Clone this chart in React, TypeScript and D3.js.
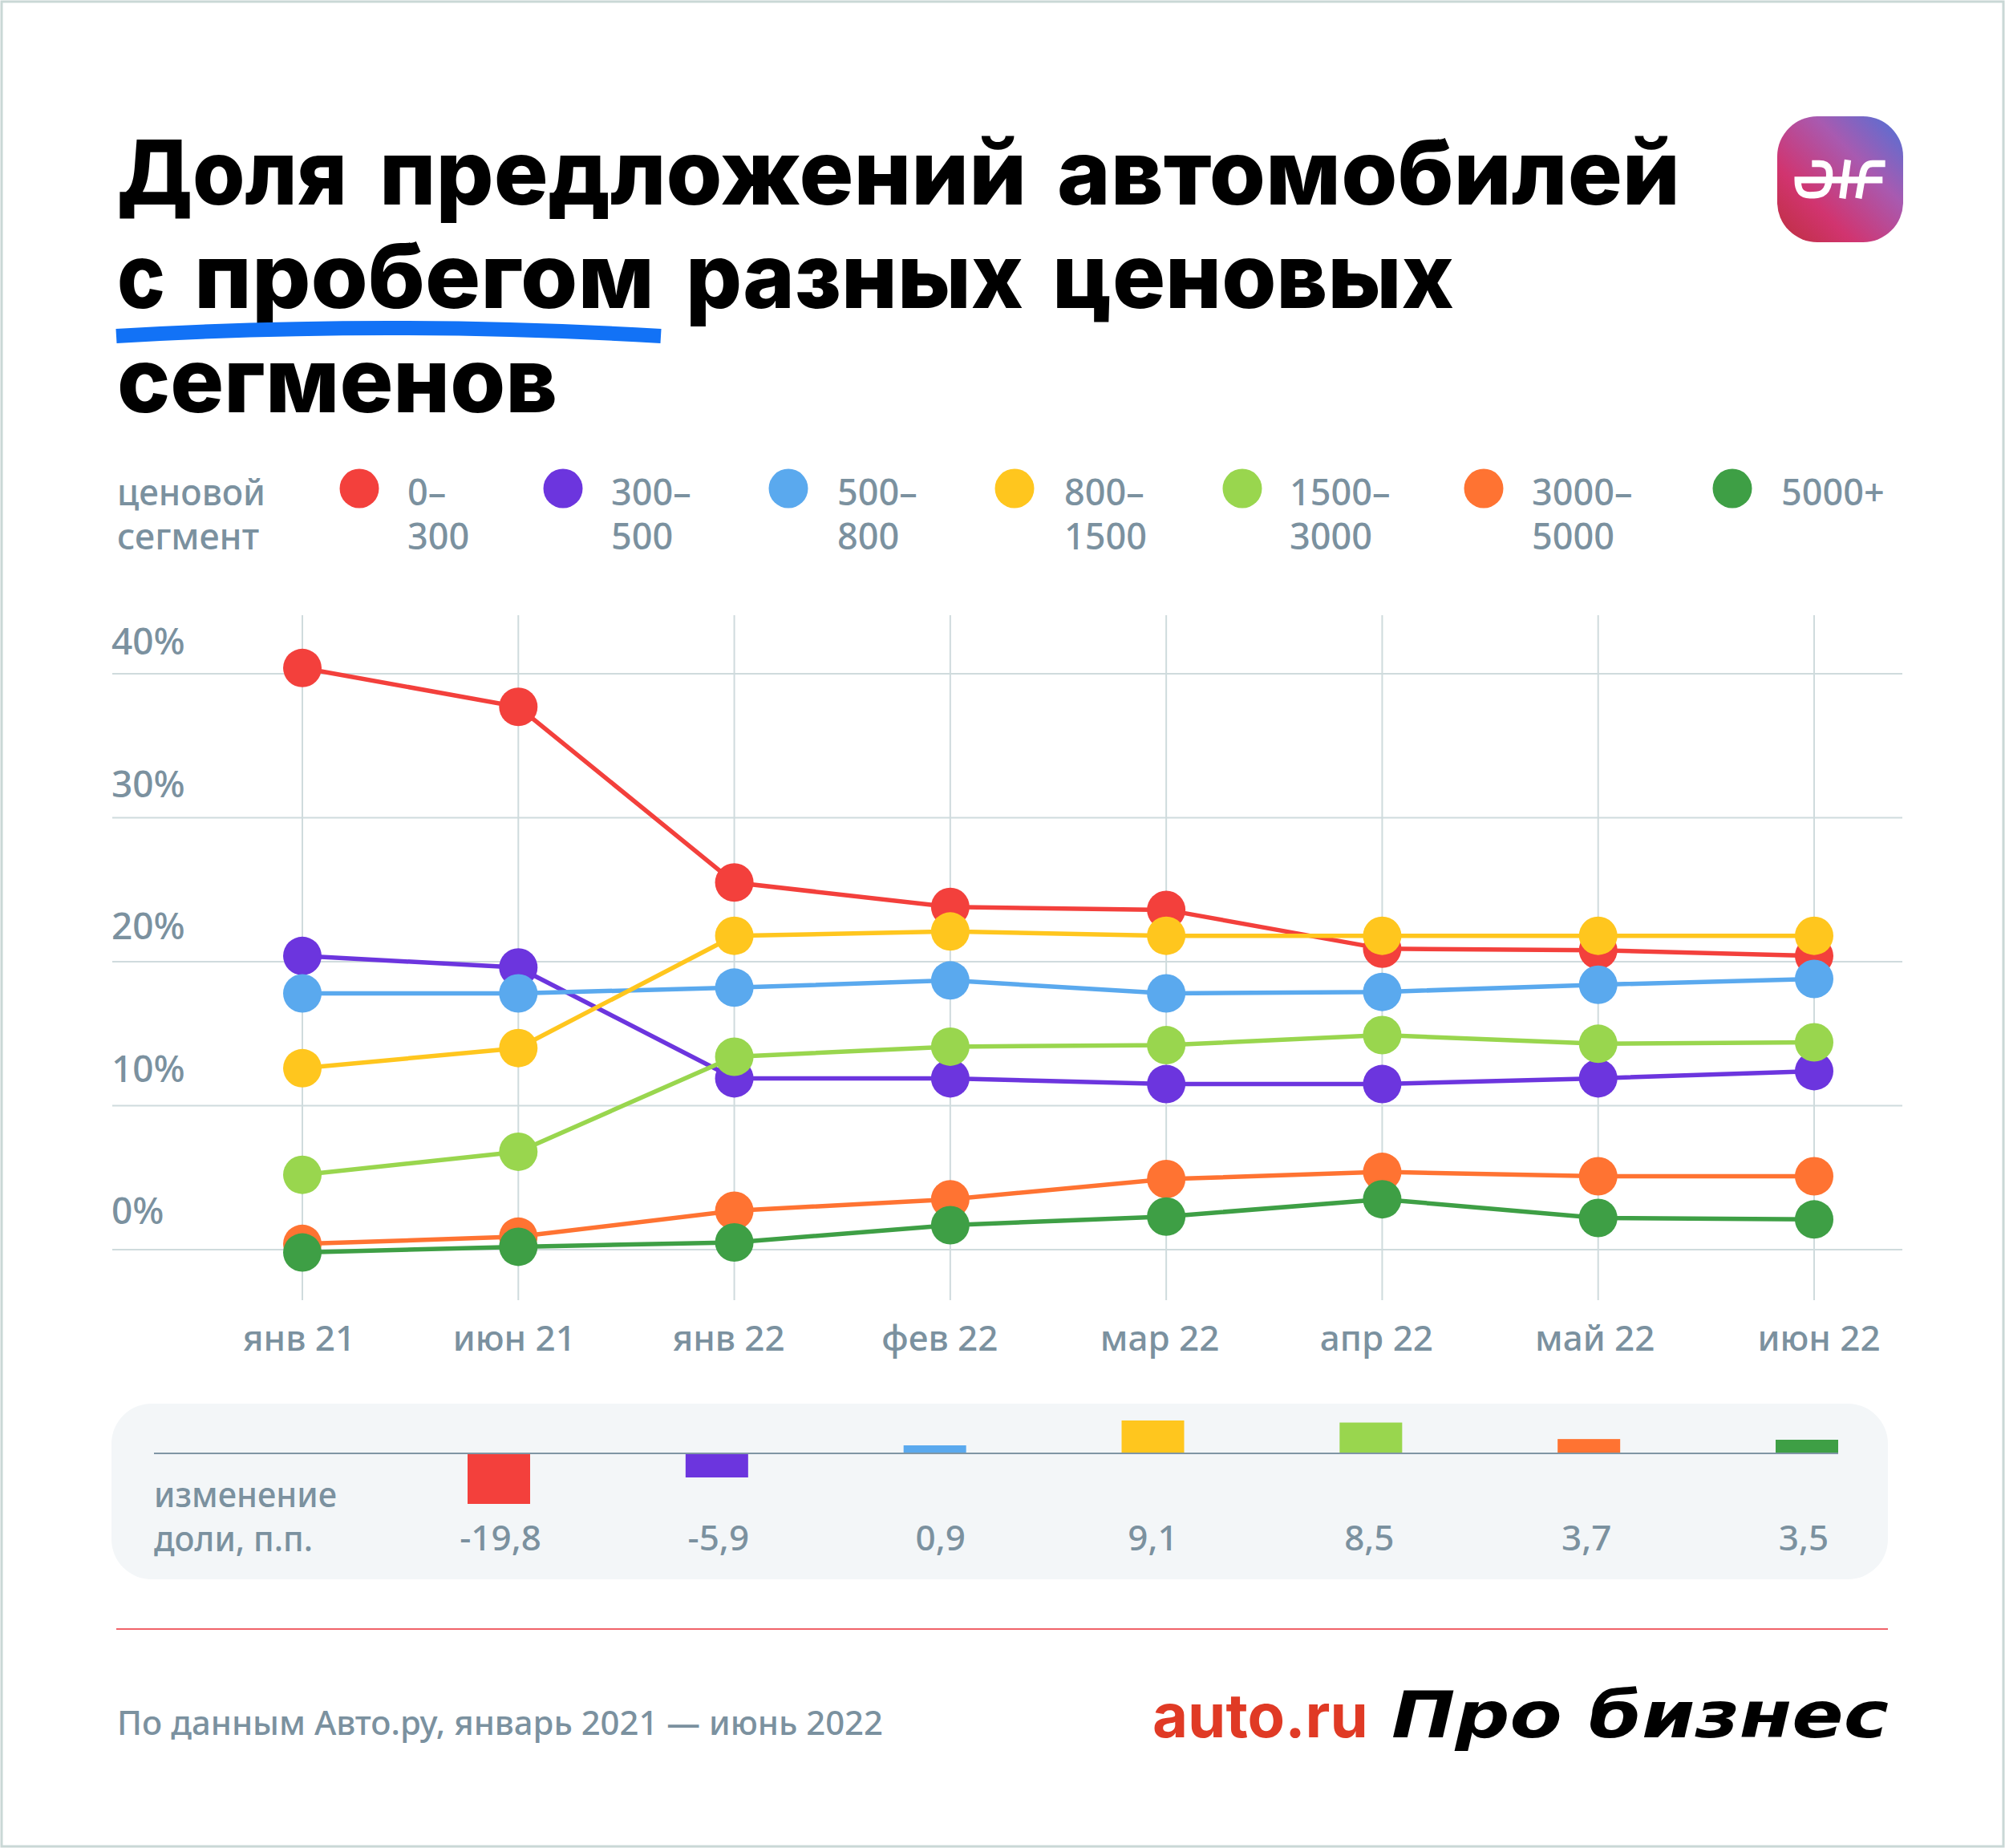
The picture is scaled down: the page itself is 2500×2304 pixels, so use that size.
import React, { useEffect, useRef } from 'react';
import * as d3 from 'd3';

const months = ['янв 21', 'июн 21', 'янв 22', 'фев 22', 'мар 22', 'апр 22', 'май 22', 'июн 22'];
const monthNudge = [-4, -5, -7, -13, -8, -7, -4, 6];
const yTicks = [0, 10, 20, 30, 40];

const segments = ['0–300', '300–500', '500–800', '800–1500', '1500–3000', '3000–5000', '5000+'];
const legendFirst = ['0–', '300–', '500–', '800–', '1500–', '3000–', '5000+'];
const legendSecond = ['300', '500', '800', '1500', '3000', '5000', ''];
const legendDot = [448, 702, 983, 1265, 1549, 1850, 2160];
const legendText = [508, 762, 1044, 1327, 1608, 1910, 2221];
const colors = ['#f3403c', '#6c35de', '#5aa9ee', '#ffc61e', '#99d64e', '#ff7332', '#3e9f45'];

const s0_300 = [40.4, 37.7, 25.5, 23.8, 23.6, 20.9, 20.8, 20.4];
const s300_500 = [20.4, 19.6, 11.9, 11.9, 11.5, 11.5, 11.9, 12.4];
const s500_800 = [17.8, 17.8, 18.2, 18.7, 17.8, 17.9, 18.4, 18.8];
const s800_1500 = [12.6, 14.0, 21.8, 22.1, 21.8, 21.8, 21.8, 21.8];
const s1500_3000 = [5.2, 6.8, 13.4, 14.1, 14.2, 14.9, 14.3, 14.4];
const s3000_5000 = [0.4, 0.9, 2.7, 3.5, 4.9, 5.4, 5.1, 5.1];
const s5000 = [-0.2, 0.2, 0.5, 1.7, 2.3, 3.5, 2.2, 2.1];
const series = [s0_300, s300_500, s500_800, s800_1500, s1500_3000, s3000_5000, s5000];

const change = [-19.8, -5.9, 0.9, 9.1, 8.5, 3.7, 3.5];
const changeLabels = ['-19,8', '-5,9', '0,9', '9,1', '8,5', '3,7', '3,5'];
const changeNudge = [2, 2, 7, 0, -2, -3, -4];

// title words: [text, x, baseline, width]
const titleWords: [string, number, number, number][] = [
  ['Доля', 146, 255, 287],
  ['предложений', 473, 255, 807],
  ['автомобилей', 1318, 255, 777],
  ['с', 146, 384, 60],
  ['пробегом', 242, 384, 574],
  ['разных', 855, 384, 421],
  ['ценовых', 1312, 384, 501],
  ['сегменов', 146, 514, 549],
];

const GRAY = '#7b919f';
const GRID = '#cfdbdd';
const BODY = '"Noto Sans", sans-serif';
const HEAD = 'Inter, sans-serif';

const App: React.FC = () => {
  const ref = useRef<SVGSVGElement>(null);

  useEffect(() => {
    const svg = d3.select(ref.current);
    svg.selectAll('*').remove();

    const text = (x: number, y: number, s: string, size = 46, fill = GRAY, family = BODY, weight = 500) =>
      svg.append('text')
        .attr('x', x)
        .attr('y', y)
        .attr('font-family', family)
        .attr('font-size', size)
        .attr('font-weight', weight)
        .attr('fill', fill)
        .text(s);

    const fit = (sel: any, w: number) =>
      sel.attr('textLength', w).attr('lengthAdjust', 'spacingAndGlyphs');

    svg.append('rect')
      .attr('x', 2).attr('y', 2).attr('width', 2496).attr('height', 2300)
      .attr('fill', '#fff').attr('stroke', '#c9d8d6').attr('stroke-width', 3);

    // title
    titleWords.forEach(([s, x, y, w]) => fit(text(x, y, s, 112, '#000', HEAD, 800), w));
    svg.append('path')
      .attr('d', 'M145 419 Q485 399 824 419')
      .attr('fill', 'none').attr('stroke', '#1272f6').attr('stroke-width', 18);

    // app icon
    const defs = svg.append('defs');
    const grad = defs.append('linearGradient')
      .attr('id', 'icon').attr('x1', 0).attr('y1', 1).attr('x2', 1).attr('y2', 0);
    [['0', '#bd2f3f'], ['0.3', '#d1346f'], ['0.65', '#a85ab0'], ['1', '#4c72d8']].forEach(([o, c]) =>
      grad.append('stop').attr('offset', o).attr('stop-color', c));
    svg.append('rect')
      .attr('x', 2216).attr('y', 145).attr('width', 157).attr('height', 157).attr('rx', 50)
      .attr('fill', 'url(#icon)');
    const glyph = svg.append('g').attr('transform', 'translate(2100,100) scale(0.3333)')
      .attr('fill', 'none').attr('stroke', '#fff').attr('stroke-width', 25);
    ['M478 312 H505 C545 312 548 340 540 385 C532 428 505 430 470 430 C435 430 425 410 425 373 H742',
      'M612 298 L592 442',
      'M752 312 H705 C680 312 672 330 668 350 L652 442'].forEach(d => glyph.append('path').attr('d', d));

    // legend
    fit(text(146, 630, 'ценовой', 45), 185);
    fit(text(146, 685, 'сегмент', 45), 177);
    segments.forEach((_, i) => {
      svg.append('circle')
        .attr('cx', legendDot[i]).attr('cy', 609).attr('r', 24.5).attr('fill', colors[i]);
      text(legendText[i], 630, legendFirst[i], 45);
      if (legendSecond[i]) text(legendText[i], 685, legendSecond[i], 45);
    });

    // chart
    const x = d3.scalePoint<string>().domain(months).range([377, 2262]);
    const y = d3.scaleLinear().domain([0, 40]).range([1558, 840]);

    yTicks.forEach(t => {
      svg.append('line')
        .attr('x1', 140).attr('x2', 2372).attr('y1', y(t)).attr('y2', y(t))
        .attr('stroke', GRID).attr('stroke-width', 2);
      text(139, y(t) - 32 + t * 0.2, `${t}%`);
    });
    months.forEach((m, i) => {
      svg.append('line')
        .attr('x1', x(m)!).attr('x2', x(m)!).attr('y1', 767).attr('y2', 1621)
        .attr('stroke', GRID).attr('stroke-width', 2);
      text(x(m)! + monthNudge[i], 1684, m, 44).attr('text-anchor', 'middle');
    });

    const line = d3.line<number>()
      .x((_, i) => x(months[i])!)
      .y(d => y(d));

    series.forEach((values, i) => {
      svg.append('path')
        .attr('d', line(values)!)
        .attr('fill', 'none').attr('stroke', colors[i]).attr('stroke-width', 5.5);
      svg.selectAll(`circle.s${i}`)
        .data(values)
        .enter()
        .append('circle')
        .attr('class', `s${i}`)
        .attr('cx', (_, j) => x(months[j])!)
        .attr('cy', d => y(d))
        .attr('r', 24)
        .attr('fill', colors[i]);
    });

    // change panel
    svg.append('rect')
      .attr('x', 139).attr('y', 1750).attr('width', 2215).attr('height', 219).attr('rx', 50)
      .attr('fill', '#f3f6f8');
    const bx = d3.scalePoint<string>().domain(segments).range([622, 2253]);
    // bars in the picture are not to one scale, so the mapping has breakpoints
    const by = d3.scaleLinear()
      .domain([-19.8, -5.9, 0, 0.9, 3.5, 9.1])
      .range([1875, 1842, 1812, 1802, 1795, 1771]);
    svg.selectAll('rect.bar')
      .data(change)
      .enter()
      .append('rect')
      .attr('class', 'bar')
      .attr('x', (_, i) => bx(segments[i])! - 39)
      .attr('width', 78)
      .attr('y', d => Math.min(by(d), by(0)))
      .attr('height', d => Math.abs(by(d) - by(0)))
      .attr('fill', (_, i) => colors[i]);
    svg.append('line')
      .attr('x1', 192).attr('x2', 2292).attr('y1', by(0)).attr('y2', by(0))
      .attr('stroke', '#7f96a5').attr('stroke-width', 2);
    fit(text(192, 1879, 'изменение', 43), 228);
    fit(text(192, 1934, 'доли, п.п.', 43), 198);
    changeLabels.forEach((l, i) => {
      text(bx(segments[i])! + changeNudge[i], 1933, l, 44).attr('text-anchor', 'middle');
    });

    // footer
    svg.append('line')
      .attr('x1', 145).attr('x2', 2354).attr('y1', 2031).attr('y2', 2031)
      .attr('stroke', '#f0636a').attr('stroke-width', 2);
    fit(text(146, 2163, 'По данным Авто.ру, январь 2021 — июнь 2022', 42), 955);
    text(1437, 2166, 'auto.ru', 76, '#e03a25', HEAD, 700);
    fit(text(1735, 2166, 'Про бизнес', 80, '#000', '"DejaVu Sans"', 700).attr('font-style', 'italic'), 620);
  }, []);

  return (
    <svg
      ref={ref}
      width={2500}
      height={2304}
      style={{ position: 'absolute', left: 0, top: 0 }}
    />
  );
};

export default App;
